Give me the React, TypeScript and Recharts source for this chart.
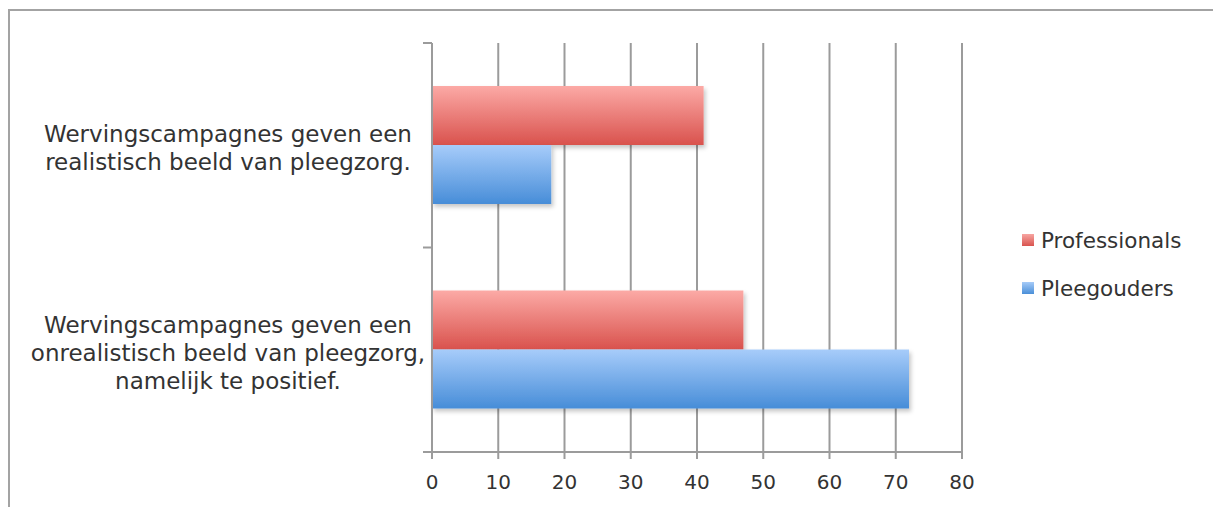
import React from 'react';
import { BarChart, Bar, XAxis, YAxis, CartesianGrid } from 'recharts';

const categoryLines: string[][] = [
  ['Wervingscampagnes geven een', 'realistisch beeld van pleegzorg.'],
  ['Wervingscampagnes geven een', 'onrealistisch beeld van pleegzorg,', 'namelijk te positief.'],
];
const professionals = [41, 47];
const pleegouders = [18, 72];
const xTicks = [0, 10, 20, 30, 40, 50, 60, 70, 80];

const seriesNames = ['Professionals', 'Pleegouders'];

const data = categoryLines.map((lines, i) => ({
  name: lines.join(' '),
  professionals: professionals[i],
  pleegouders: pleegouders[i],
}));

const FONT = '"DejaVu Sans", sans-serif';
const GRID = '#9b9b9b';
const TEXT = '#333333';

// label + category boundary tick marks (half a band above / below the centre)
const CategoryTick = (props: any) => {
  const { x, y, payload, index, visibleTicksCount } = props;
  const half = Number(payload.offset) || 0;
  const lines = categoryLines[index] || [String(payload.value)];
  const lh = 28;
  const startY = y + 3 - ((lines.length - 1) * lh) / 2;
  const isLast = index === (visibleTicksCount ?? categoryLines.length) - 1;
  return (
    <g>
      <line x1={x - 9} x2={x} y1={y - half} y2={y - half} stroke={GRID} strokeWidth={2} />
      {isLast && <line x1={x - 9} x2={x} y1={y + half} y2={y + half} stroke={GRID} strokeWidth={2} />}
      <text x={x - 204} y={startY} textAnchor="middle" fontFamily={FONT} fontSize={23} fill={TEXT}>
        {lines.map((l, i) => (
          <tspan key={i} x={x - 204} y={startY + i * lh} dy="0.35em">
            {l}
          </tspan>
        ))}
      </text>
    </g>
  );
};

const legendFills = [
  'linear-gradient(#f7a5a1, #d9544f)',
  'linear-gradient(#a6cbf8, #4a8fd8)',
];

const App: React.FC = () => {
  return (
    <div style={{ position: 'relative', width: 1213, height: 507, background: '#fff' }}>
      <style>{'body{margin:0;overflow:hidden}'}</style>
      <div
        style={{
          position: 'absolute',
          left: 8,
          top: 9,
          width: 1205,
          height: 498,
          boxSizing: 'border-box',
          borderTop: '2px solid #a3a3a3',
          borderLeft: '2px solid #a3a3a3',
        }}
      />
      <BarChart
        width={1213}
        height={507}
        data={data}
        layout="vertical"
        margin={{ top: 43, right: 251, bottom: 25, left: 0 }}
        barCategoryGap="21%"
        barGap={0}
        style={{ position: 'absolute', left: 0, top: 0 }}
      >
        <defs>
          <linearGradient id="redGrad" x1="0" y1="0" x2="0" y2="1">
            <stop offset="0%" stopColor="#fcaaa6" />
            <stop offset="100%" stopColor="#d9524d" />
          </linearGradient>
          <linearGradient id="blueGrad" x1="0" y1="0" x2="0" y2="1">
            <stop offset="0%" stopColor="#a7ccfa" />
            <stop offset="100%" stopColor="#478dd8" />
          </linearGradient>
          <filter id="barShadow" x="-5%" y="-10%" width="115%" height="130%">
            <feDropShadow dx="2" dy="3" stdDeviation="2" floodColor="#000" floodOpacity="0.22" />
          </filter>
        </defs>
        <CartesianGrid horizontal={false} stroke={GRID} strokeWidth={2} />
        <XAxis
          type="number"
          domain={[0, 80]}
          ticks={xTicks}
          interval={0}
          height={30}
          tickSize={7}
          tickMargin={16}
          axisLine={{ stroke: GRID, strokeWidth: 2 }}
          tickLine={{ stroke: GRID, strokeWidth: 2 }}
          tick={{ fontFamily: FONT, fontSize: 20, fill: TEXT }}
        />
        <YAxis
          type="category"
          dataKey="name"
          width={432}
          interval={0}
          tickSize={0}
          tickMargin={0}
          tickLine={false}
          axisLine={{ stroke: GRID, strokeWidth: 2 }}
          tick={<CategoryTick />}
        />
        <Bar
          dataKey="professionals"
          name={seriesNames[0]}
          fill="url(#redGrad)"
          filter="url(#barShadow)"
          isAnimationActive={false}
        />
        <Bar
          dataKey="pleegouders"
          name={seriesNames[1]}
          fill="url(#blueGrad)"
          filter="url(#barShadow)"
          isAnimationActive={false}
        />
      </BarChart>
      <div style={{ position: 'absolute', left: 1022, top: 227, fontFamily: FONT, fontSize: 21.5, color: TEXT }}>
        {seriesNames.map((n, i) => (
          <div key={n} style={{ display: 'flex', alignItems: 'center', height: 26, marginBottom: 22 }}>
            <span
              style={{
                display: 'inline-block',
                width: 12,
                height: 12,
                background: legendFills[i],
                marginRight: 7,
              }}
            />
            {n}
          </div>
        ))}
      </div>
    </div>
  );
};

export default App;
